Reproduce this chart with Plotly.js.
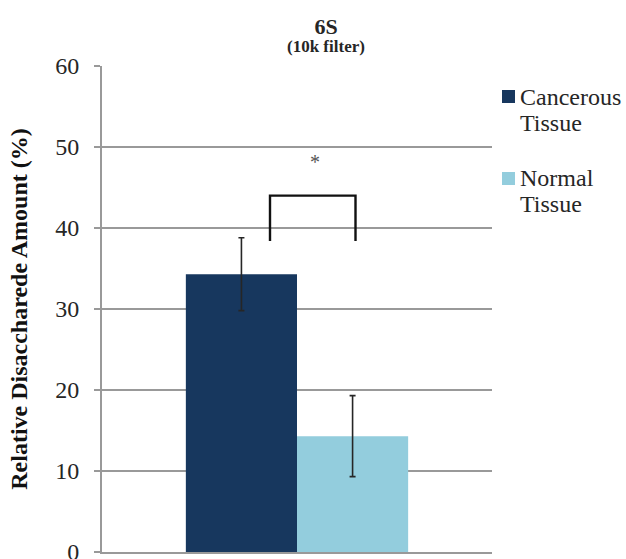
<!DOCTYPE html>
<html>
<head>
<meta charset="utf-8">
<script src="https://cdn.plot.ly/plotly-3.0.1.min.js"></script>
<style>
  html, body { margin: 0; padding: 0; background: #ffffff; }
  #chart { width: 626px; height: 559px; }
</style>
</head>
<body>
<div id="chart"></div>
<script>
// ---- data ----
const categories = ['6S'];
const seriesNames = ['Cancerous Tissue', 'Normal Tissue'];
const cancerousValues = [34.3];
const cancerousErrors = [4.5];
const normalValues = [14.3];
const normalErrors = [5.0];
const yTickValues = [0, 10, 20, 30, 40, 50, 60];
const chartTitle = '6S';
const chartSubtitle = '(10k filter)';
const yAxisTitle = 'Relative Disaccharede Amount (%)';
const significanceMark = '*';
const bracketLevels = [38.4, 44.0];   // bracket feet and crossbar (y units)
const significanceLevel = 48.1;        // height of the asterisk (y units)

// ---- styling ----
const SERIF = 'Liberation Serif';
const seriesColors = ['#17375E', '#93CDDD'];
const gridGray = '#999999';
const textDark = '#262626';

// plot area in pixels (used to place the side key and titles)
const W = 626, H = 559;
const M = { l: 102, r: 134, t: 66, b: 7 };
const plotW = W - M.l - M.r, plotH = H - M.t - M.b;
const px2paperX = px => (px - M.l) / plotW;
const px2paperY = py => (H - M.b - py) / plotH;

const errStyle = { type: 'data', visible: true, color: '#262626', thickness: 1.6, width: 3 };

const traces = [
  {
    type: 'bar', name: seriesNames[0], x: categories, y: cancerousValues,
    marker: { color: seriesColors[0] },
    error_y: Object.assign({ array: cancerousErrors }, errStyle),
    showlegend: false, hoverinfo: 'y+name'
  },
  {
    type: 'bar', name: seriesNames[1], x: categories, y: normalValues,
    marker: { color: seriesColors[1] },
    error_y: Object.assign({ array: normalErrors }, errStyle),
    showlegend: false, hoverinfo: 'y+name'
  }
];

// side key: colour swatch plus the series name broken over two lines
const keySwatchTops = [90, 172];
const keyLineCenters = [[96.5, 123], [177.5, 204]];
const shapes = [];
const annotations = [];
seriesNames.forEach((name, i) => {
  const top = keySwatchTops[i];
  shapes.push({
    type: 'rect', xref: 'paper', yref: 'paper',
    x0: px2paperX(502), x1: px2paperX(515),
    y0: px2paperY(top + 13), y1: px2paperY(top),
    fillcolor: seriesColors[i], line: { width: 0 }
  });
  name.split(' ').forEach((word, j) => {
    annotations.push({
      xref: 'paper', yref: 'paper', x: px2paperX(518), y: px2paperY(keyLineCenters[i][j]),
      xanchor: 'left', yanchor: 'middle', showarrow: false, text: word,
      font: { family: SERIF, size: 24, color: textDark }
    });
  });
});

// significance bracket between the two groups
shapes.push({
  type: 'path', xref: 'paper', yref: 'y',
  path: 'M ' + px2paperX(270) + ',' + bracketLevels[0] +
        ' L ' + px2paperX(270) + ',' + bracketLevels[1] +
        ' L ' + px2paperX(355.5) + ',' + bracketLevels[1] +
        ' L ' + px2paperX(355.5) + ',' + bracketLevels[0],
  line: { color: '#111111', width: 2.4 }
});
annotations.push({
  xref: 'paper', yref: 'y', x: px2paperX(315), y: significanceLevel,
  xanchor: 'center', yanchor: 'middle', showarrow: false, text: significanceMark,
  font: { family: SERIF, size: 20, color: '#555555' }
});

// subtitle under the main title
annotations.push({
  xref: 'paper', yref: 'paper', x: px2paperX(326), y: px2paperY(47),
  xanchor: 'center', yanchor: 'middle', showarrow: false,
  text: '<b>' + chartSubtitle + '</b>',
  font: { family: SERIF, size: 17, color: textDark }
});

const layout = {
  width: W, height: H,
  margin: M,
  paper_bgcolor: '#ffffff', plot_bgcolor: '#ffffff',
  barmode: 'group', bargap: 0.43, bargroupgap: 0,
  showlegend: false,
  title: {
    text: '<b>' + chartTitle + '</b>',
    font: { family: SERIF, size: 22, color: textDark },
    xref: 'paper', x: px2paperX(326), xanchor: 'center',
    yref: 'container', y: 1 - 26.5 / H, yanchor: 'middle'
  },
  xaxis: {
    type: 'category', showticklabels: false, ticks: '',
    showgrid: false, zeroline: false,
    showline: true, linecolor: gridGray, linewidth: 2,
    fixedrange: true
  },
  yaxis: {
    range: [0, 60], tickvals: yTickValues, ticktext: yTickValues.map(String),
    showgrid: true, gridcolor: gridGray, gridwidth: 2,
    zeroline: false,
    showline: true, linecolor: gridGray, linewidth: 2,
    ticks: 'outside', ticklen: 6, tickwidth: 2, tickcolor: gridGray,
    ticklabelstandoff: 10,
    ticklabeloverflow: 'allow',
    tickfont: { family: SERIF, size: 24, color: textDark },
    title: {
      text: '<b>' + yAxisTitle + '</b>',
      font: { family: SERIF, size: 24, color: '#111111' },
      standoff: 21
    },
    automargin: false,
    fixedrange: true
  },
  shapes: shapes,
  annotations: annotations
};

Plotly.newPlot('chart', traces, layout, { displayModeBar: false, staticPlot: true });
</script>
</body>
</html>
